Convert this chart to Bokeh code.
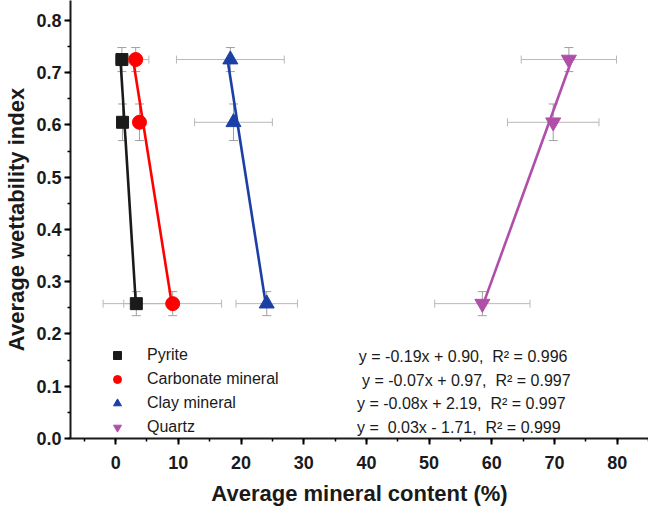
import numpy as np
from bokeh.plotting import figure
from bokeh.models import (ColumnDataSource, Whisker, TeeHead, Legend, LegendItem,
                          SingleIntervalTicker, Range1d, Label, NumeralTickFormatter)
from bokeh.embed import file_html
from bokeh.resources import INLINE

# ---- data ----
minerals = ["Pyrite", "Carbonate mineral", "Clay mineral", "Quartz"]
wettability = [0.725, 0.605, 0.258]
wett_err = [0.023, 0.035, 0.023]
pyrite = [1.0, 1.1, 3.3]
pyrite_err = [1.0, 0.6, 5.3]
carbonate = [3.2, 3.8, 9.1]
carbonate_err = [2.1, 0.6, 7.8]
clay = [18.3, 18.8, 24.1]
clay_err = [8.6, 6.2, 4.9]
quartz = [72.3, 69.8, 58.5]
quartz_err = [7.6, 7.3, 7.6]
equations = ["y = -0.19x + 0.90,\u00a0 R\u00b2 = 0.996",
             "y = -0.07x + 0.97,\u00a0 R\u00b2 = 0.997",
             "y = -0.08x + 2.19,\u00a0 R\u00b2 = 0.997",
             "y =\u00a0 0.03x - 1.71,\u00a0 R\u00b2 = 0.999"]

colors = ["#1a1a1a", "#ff0000", "#1c3fa6", "#b04fa8"]
markers = ["square", "circle", "triangle", "inverted_triangle"]
sizes = [12, 14, 15, 15]
FONT = "Liberation Sans"

p = figure(width=648, height=508, output_backend="svg", toolbar_location=None,
           x_range=Range1d(-7.2, 85), y_range=Range1d(0, 0.838),
           min_border_left=70, min_border_right=0, min_border_top=0,
           min_border_bottom=70)
p.outline_line_color = None
p.xgrid.visible = False
p.ygrid.visible = False

series = [pyrite, carbonate, clay, quartz]
errs = [pyrite_err, carbonate_err, clay_err, quartz_err]
items = []
for name, xs, xe, c, m, s in zip(minerals, series, errs, colors, markers, sizes):
    xs = np.array(xs)
    ys = np.array(wettability)
    src = ColumnDataSource(dict(x=xs, y=ys,
                                xl=xs - np.array(xe), xu=xs + np.array(xe),
                                yl=ys - np.array(wett_err), yu=ys + np.array(wett_err)))
    p.add_layout(Whisker(source=src, base="y", lower="xl", upper="xu", dimension="width",
                         line_color="#b8b8b8", line_width=1,
                         lower_head=TeeHead(size=8, line_color="#b8b8b8", line_width=1),
                         upper_head=TeeHead(size=8, line_color="#b8b8b8", line_width=1)))
    p.add_layout(Whisker(source=src, base="x", lower="yl", upper="yu", dimension="height",
                         line_color="#a0a0a0", line_width=1,
                         lower_head=TeeHead(size=9, line_color="#a0a0a0", line_width=1),
                         upper_head=TeeHead(size=9, line_color="#a0a0a0", line_width=1)))
    # least-squares fit of x on y, drawn across the data range
    a, b = np.polyfit(ys, xs, 1)
    yfit = np.array([ys.max(), ys.min()])
    p.line(a * yfit + b, yfit, line_color=c, line_width=2.6)
    r = p.scatter("x", "y", source=src, marker=m, size=s, fill_color=c, line_color=c)
    items.append(LegendItem(label=name, renderers=[r]))

legend = Legend(items=items, location=(37, 1), background_fill_alpha=0,
                border_line_color=None, padding=0, margin=0, spacing=4,
                glyph_width=20, glyph_height=20, label_height=20, label_standoff=20,
                label_text_font=FONT, label_text_font_size="16px", label_text_color="#1a1a1a")
p.add_layout(legend)

eq_x = [38.8, 39.3, 38.5, 38.5]
eq_y = [0.157, 0.111, 0.067, 0.021]
for ex, ey, t in zip(eq_x, eq_y, equations):
    p.add_layout(Label(x=ex, y=ey, text=t, text_font=FONT, text_font_size="16px",
                       text_baseline="middle", text_color="#1a1a1a"))

for ax in (p.xaxis[0], p.yaxis[0]):
    ax.axis_line_width = 2
    ax.axis_line_color = "#1a1a1a"
    ax.major_tick_line_width = 2
    ax.minor_tick_line_width = 1.5
    ax.major_tick_out = 6
    ax.major_tick_in = 0
    ax.minor_tick_out = 3
    ax.minor_tick_in = 0
    ax.major_label_text_font = FONT
    ax.major_label_text_font_style = "bold"
    ax.major_label_text_font_size = "18px"
    ax.major_label_text_color = "#1a1a1a"
    ax.axis_label_text_font = FONT
    ax.axis_label_text_font_style = "bold"
    ax.axis_label_text_font_size = "22px"
    ax.axis_label_text_color = "#1a1a1a"

p.xaxis.ticker = SingleIntervalTicker(interval=10, num_minor_ticks=2)
p.yaxis.ticker = SingleIntervalTicker(interval=0.1, num_minor_ticks=2)
p.yaxis.formatter = NumeralTickFormatter(format="0.0")
p.xaxis.axis_label = "Average mineral content (%)"
p.yaxis.axis_label = "Average wettability index"
p.xaxis.major_label_standoff = 11
p.xaxis.axis_label_standoff = 9
p.yaxis.major_label_standoff = 3
p.yaxis.axis_label_standoff = 4

open("out.html", "w").write(file_html(p, INLINE))
